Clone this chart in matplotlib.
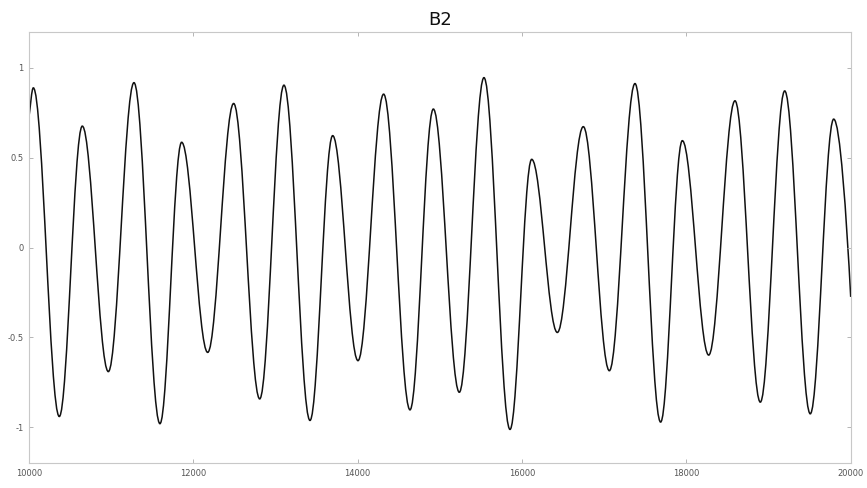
import numpy as np
import matplotlib
matplotlib.use("Agg")
import matplotlib.pyplot as plt
from matplotlib.path import Path
from matplotlib.patches import PathPatch

# curve: start point, alternating peaks / troughs, end point
x_pts = [10000, 10053, 10369, 10649, 10966, 11278, 11594, 11858, 12175,
         12491, 12808, 13103, 13420, 13696, 14004, 14316, 14637, 14921,
         15237, 15537, 15854, 16118, 16430, 16746, 17063, 17375, 17687,
         17951, 18272, 18592, 18900, 19197, 19508, 19793, 20000]
y_pts = [0.728, 0.889, -0.941, 0.676, -0.691, 0.918, -0.981, 0.586, -0.584,
         0.802, -0.843, 0.904, -0.963, 0.623, -0.630, 0.854, -0.904, 0.771,
         -0.806, 0.946, -1.013, 0.491, -0.473, 0.673, -0.686, 0.913, -0.972,
         0.595, -0.599, 0.817, -0.861, 0.872, -0.926, 0.715, -0.275]

x_ticks = [10000, 12000, 14000, 16000, 18000, 20000]
y_ticks = [-1, -0.5, 0, 0.5, 1]
y_ticklabels = ["-1", "-0.5", "0", "0.5", "1"]
title = "B2"


def smooth_path(xs, ys, k=0.364):
    # cubic bezier pieces, flat tangents at the extrema
    verts = [(xs[0], ys[0])]
    codes = [Path.MOVETO]
    n = len(xs)
    for i in range(n - 1):
        x0, y0, x1, y1 = xs[i], ys[i], xs[i + 1], ys[i + 1]
        d = x1 - x0
        if i == 0:
            c1 = (x0 + d / 3, y0 + (y1 - y0) / 3)
        else:
            c1 = (x0 + k * d, y0)
        if i == n - 2:
            c2 = (x1 - d / 4, y1 - (y1 - y0) / 2.2)
        else:
            c2 = (x1 - k * d, y1)
        verts += [c1, c2, (x1, y1)]
        codes += [Path.CURVE4] * 3
    return Path(verts, codes)


fig = plt.figure(figsize=(8.67, 4.88), dpi=100)
ax = fig.add_axes([0.0334, 0.0512, 0.9478, 0.8832])

ax.add_patch(PathPatch(smooth_path(x_pts, y_pts), fill=False,
                       edgecolor="#111111", lw=1.1))

ax.set_xlim(10000, 20000)
ax.set_ylim(-1.2, 1.2)
ax.set_xticks(x_ticks)
ax.set_xticklabels([str(t) for t in x_ticks])
ax.set_yticks(y_ticks)
ax.set_yticklabels(y_ticklabels)
ax.tick_params(direction="in", length=3, width=0.6, colors="#aaaaaa",
               labelcolor="#555555", labelsize=6, pad=4,
               top=True, right=True)
for s in ax.spines.values():
    s.set_color("#c8c8c8")
    s.set_linewidth(0.8)

ax.set_title(title, fontsize=13, color="#111111", pad=5)

fig.savefig("out.png", dpi=100)
